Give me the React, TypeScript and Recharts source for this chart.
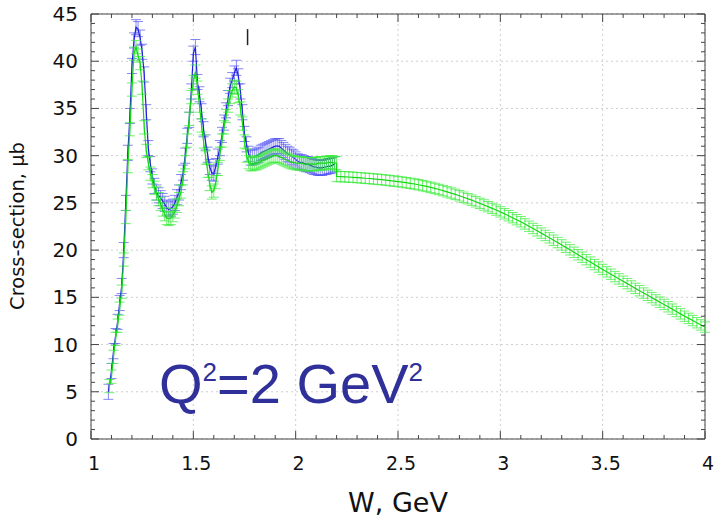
import React from "react";
import {
  ComposedChart,
  Line,
  XAxis,
  YAxis,
  CartesianGrid,
  ErrorBar,
  ReferenceArea,
  ReferenceLine,
} from "recharts";

// axis ticks
const X_MAJOR = [1, 1.5, 2, 2.5, 3, 3.5, 4];
const X_MINOR = [
  1, 1.1, 1.2, 1.3, 1.4, 1.5, 1.6, 1.7, 1.8, 1.9, 2, 2.1, 2.2, 2.3, 2.4, 2.5,
  2.6, 2.7, 2.8, 2.9, 3, 3.1, 3.2, 3.3, 3.4, 3.5, 3.6, 3.7, 3.8, 3.9, 4,
];
const Y_MAJOR = [0, 5, 10, 15, 20, 25, 30, 35, 40, 45];
const Y_MINOR = Array.from({ length: 46 }, (_, i) => i);

// measured cross-section (W in GeV, value in microbarn)
const BLUE: [number, number][] = [
  [1.085, 5.0], [1.1, 7.2], [1.11, 9.3], [1.12, 10.9], [1.13, 12.4], [1.14, 14.4],
  [1.15, 16.2], [1.16, 20.0], [1.17, 25.0], [1.18, 30.3], [1.19, 34.2], [1.2, 39.5],
  [1.21, 42.2], [1.22, 43.6], [1.23, 43.4], [1.24, 42.5], [1.25, 41.0], [1.26, 38.6],
  [1.27, 34.6], [1.28, 30.8], [1.29, 29.1], [1.3, 27.8], [1.31, 26.8], [1.32, 26.1],
  [1.33, 25.8], [1.34, 25.5], [1.35, 25.2], [1.36, 24.9], [1.37, 24.5], [1.38, 24.3],
  [1.39, 24.4], [1.4, 24.6], [1.41, 25.0], [1.42, 25.6], [1.43, 26.1], [1.44, 27.2],
  [1.45, 28.2], [1.46, 30.0], [1.47, 32.1], [1.48, 33.8], [1.49, 36.8], [1.5, 40.8],
  [1.51, 41.5], [1.52, 37.8], [1.53, 36.5], [1.54, 34.7], [1.55, 32.8], [1.56, 31.4],
  [1.57, 30.1], [1.58, 28.8], [1.59, 28.2], [1.6, 28.1], [1.61, 28.9], [1.62, 29.9],
  [1.63, 30.8], [1.64, 32.2], [1.65, 33.5], [1.66, 34.8], [1.67, 36.1], [1.68, 37.4],
  [1.69, 38.0], [1.7, 38.7], [1.71, 39.3], [1.72, 38.4], [1.73, 36.8], [1.74, 34.6],
  [1.75, 32.3], [1.76, 31.2], [1.77, 30.2], [1.78, 29.8], [1.79, 29.8], [1.8, 29.9],
  [1.81, 30.0], [1.82, 30.1], [1.83, 30.3], [1.84, 30.4], [1.85, 30.5], [1.86, 30.6],
  [1.87, 30.7], [1.88, 30.8], [1.89, 30.9], [1.9, 31.0], [1.91, 31.0], [1.92, 31.0],
  [1.93, 30.8], [1.94, 30.6], [1.95, 30.4], [1.96, 30.2], [1.97, 30.1], [1.98, 29.9],
  [1.99, 29.8], [2.0, 29.6], [2.01, 29.4], [2.02, 29.3], [2.03, 29.3], [2.04, 29.2],
  [2.05, 29.1], [2.06, 29.1], [2.07, 29.0], [2.08, 28.9], [2.09, 28.8], [2.1, 28.8],
  [2.11, 28.7], [2.12, 28.7], [2.13, 28.7], [2.14, 28.8], [2.15, 28.8], [2.16, 28.9],
  [2.17, 28.9], [2.18, 29.0], [2.19, 29.1],
];

// second data set, resonance region
const GREEN_RES: [number, number][] = [
  [1.09, 5.6], [1.1, 6.6], [1.11, 8.7], [1.12, 10.6], [1.13, 12.0], [1.14, 13.8],
  [1.15, 15.6], [1.16, 19.0], [1.17, 23.5], [1.18, 28.9], [1.19, 32.8], [1.2, 37.0],
  [1.21, 40.8], [1.22, 41.5], [1.23, 40.6], [1.24, 39.8], [1.25, 37.2], [1.26, 33.0],
  [1.27, 30.5], [1.28, 29.2], [1.29, 28.1], [1.3, 27.3], [1.31, 26.6], [1.32, 26.0],
  [1.33, 25.4], [1.34, 24.9], [1.35, 24.3], [1.36, 23.8], [1.37, 23.4], [1.38, 23.3],
  [1.39, 23.4], [1.4, 23.7], [1.41, 24.1], [1.42, 24.7], [1.43, 25.4], [1.44, 26.2],
  [1.45, 27.6], [1.46, 29.3], [1.47, 31.6], [1.48, 33.9], [1.49, 36.2], [1.5, 37.8],
  [1.51, 38.9], [1.52, 37.2], [1.53, 35.3], [1.54, 33.2], [1.55, 31.5], [1.56, 29.8],
  [1.57, 28.4], [1.58, 27.0], [1.59, 26.1], [1.6, 26.3], [1.61, 27.2], [1.62, 28.6],
  [1.63, 30.2], [1.64, 31.6], [1.65, 33.0], [1.66, 34.2], [1.67, 35.3], [1.68, 36.2],
  [1.69, 36.9], [1.7, 37.3], [1.71, 37.2], [1.72, 36.3], [1.73, 35.0], [1.74, 33.4],
  [1.75, 31.5], [1.76, 30.0], [1.77, 29.3], [1.78, 29.1], [1.79, 29.1], [1.8, 29.2],
  [1.81, 29.2], [1.82, 29.3], [1.83, 29.4], [1.84, 29.5], [1.85, 29.6], [1.86, 29.7],
  [1.87, 29.8], [1.88, 29.9], [1.89, 30.0], [1.9, 30.0], [1.91, 30.0], [1.92, 29.9],
  [1.93, 29.8], [1.94, 29.7], [1.95, 29.6], [1.96, 29.5], [1.97, 29.4], [1.98, 29.3],
  [1.99, 29.3], [2.0, 29.2], [2.01, 29.2], [2.02, 29.2], [2.03, 29.2], [2.04, 29.1],
  [2.05, 29.1], [2.06, 29.1], [2.07, 29.1], [2.08, 29.1], [2.09, 29.1], [2.1, 29.1],
  [2.11, 29.2], [2.12, 29.2], [2.13, 29.2], [2.14, 29.2], [2.15, 29.2], [2.16, 29.3],
  [2.17, 29.3], [2.18, 29.3], [2.19, 29.2], [2.2, 29.2],
];

// smooth continuation above the resonance region
const GREEN_TAIL: [number, number][] = [
  [2.2, 27.8], [2.22, 27.78], [2.24, 27.76], [2.26, 27.74], [2.28, 27.71], [2.3, 27.68],
  [2.32, 27.65], [2.34, 27.61], [2.36, 27.58], [2.38, 27.54], [2.4, 27.5], [2.42, 27.46],
  [2.44, 27.41], [2.46, 27.36], [2.48, 27.31], [2.5, 27.26], [2.52, 27.2], [2.54, 27.14],
  [2.56, 27.07], [2.58, 27.0], [2.6, 26.92], [2.62, 26.83], [2.64, 26.74], [2.66, 26.64],
  [2.68, 26.53], [2.7, 26.42], [2.72, 26.3], [2.74, 26.17], [2.76, 26.04], [2.78, 25.9],
  [2.8, 25.75], [2.82, 25.6], [2.84, 25.45], [2.86, 25.29], [2.88, 25.12], [2.9, 24.95],
  [2.92, 24.78], [2.94, 24.6], [2.96, 24.42], [2.98, 24.24], [3.0, 24.05], [3.02, 23.85],
  [3.04, 23.64], [3.06, 23.43], [3.08, 23.22], [3.1, 23.0], [3.12, 22.77], [3.14, 22.53],
  [3.16, 22.29], [3.18, 22.05], [3.2, 21.8], [3.22, 21.55], [3.24, 21.3], [3.26, 21.05],
  [3.28, 20.8], [3.3, 20.55], [3.32, 20.29], [3.34, 20.03], [3.36, 19.77], [3.38, 19.51],
  [3.4, 19.25], [3.42, 18.99], [3.44, 18.73], [3.46, 18.47], [3.48, 18.21], [3.5, 17.95],
  [3.52, 17.7], [3.54, 17.45], [3.56, 17.2], [3.58, 16.95], [3.6, 16.7], [3.62, 16.45],
  [3.64, 16.2], [3.66, 15.95], [3.68, 15.7], [3.7, 15.45], [3.72, 15.21], [3.74, 14.97],
  [3.76, 14.73], [3.78, 14.49], [3.8, 14.25], [3.82, 14.0], [3.84, 13.75], [3.86, 13.5],
  [3.88, 13.25], [3.9, 13.0], [3.92, 12.77], [3.94, 12.54], [3.96, 12.31], [3.98, 12.08],
  [4.0, 11.85],
];

const BLUE_ERR = 0.8;
const GREEN_RES_ERR = 0.7;
const GREEN_TAIL_ERR = 0.55;

const blueData = BLUE.map(([w, v]) => ({ w, v, e: BLUE_ERR }));
const greenData = [
  ...GREEN_RES.map(([w, v]) => ({ w, v, e: GREEN_RES_ERR })),
  ...GREEN_TAIL.map(([w, v]) => ({ w, v, e: GREEN_TAIL_ERR })),
];

const PLOT_LEFT = 91;
const PLOT_RIGHT = 705;
const PLOT_TOP = 14;
const PLOT_BOTTOM = 439;
const FONT = "'DejaVu Sans', sans-serif";
const AXIS_COLOR = "#444";

const isMajor = (list: number[], v: number) => list.some((m) => Math.abs(m - v) < 1e-6);

function XTick(props: any) {
  const { x, payload } = props;
  const major = isMajor(X_MAJOR, payload.value);
  const len = major ? 8 : 4;
  return (
    <g>
      <line x1={x} x2={x} y1={PLOT_BOTTOM} y2={PLOT_BOTTOM - len} stroke={AXIS_COLOR} />
      <line x1={x} x2={x} y1={PLOT_TOP} y2={PLOT_TOP + len} stroke={AXIS_COLOR} />
      {major && (
        <text x={x + 3} y={470} textAnchor="middle" fontFamily={FONT} fontSize={19} fill="#111">
          {String(payload.value)}
        </text>
      )}
    </g>
  );
}

function YTick(props: any) {
  const { y, payload } = props;
  const major = isMajor(Y_MAJOR, payload.value);
  const len = major ? 8 : 4;
  return (
    <g>
      <line x1={PLOT_LEFT} x2={PLOT_LEFT + len} y1={y} y2={y} stroke={AXIS_COLOR} />
      <line x1={PLOT_RIGHT} x2={PLOT_RIGHT - len} y1={y} y2={y} stroke={AXIS_COLOR} />
      {major && (
        <text x={78} y={y} dy={7} textAnchor="end" fontFamily={FONT} fontSize={20} fill="#111">
          {String(payload.value)}
        </text>
      )}
    </g>
  );
}

export default function App() {
  return (
    <div style={{ position: "absolute", left: 0, top: 0, width: 720, height: 519, background: "#fff" }}>
      <ComposedChart
        width={720}
        height={519}
        margin={{ top: PLOT_TOP, right: 720 - PLOT_RIGHT, bottom: 0, left: 0 }}
      >
        <CartesianGrid
          stroke="#cfcfcf"
          strokeDasharray="2 3"
          horizontalValues={Y_MAJOR}
          verticalValues={X_MAJOR}
        />
        <XAxis
          type="number"
          dataKey="w"
          domain={[1, 4]}
          ticks={X_MINOR}
          interval={0}
          height={519 - PLOT_BOTTOM}
          axisLine={false}
          tickLine={false}
          tick={<XTick />}
          allowDataOverflow
        />
        <YAxis
          type="number"
          domain={[0, 45]}
          ticks={Y_MINOR}
          interval={0}
          width={PLOT_LEFT}
          axisLine={false}
          tickLine={false}
          tick={<YTick />}
          allowDataOverflow
        />
        <ReferenceArea x1={1} x2={4} y1={0} y2={45} fill="none" stroke={AXIS_COLOR} strokeWidth={1} />
        <ReferenceLine
          segment={[{ x: 1.765, y: 41.7 }, { x: 1.765, y: 43.4 }]}
          stroke="#222"
          strokeWidth={1.5}
        />
        <Line
          data={blueData}
          dataKey="v"
          stroke="#1f1fe0"
          strokeWidth={1.2}
          dot={false}
          isAnimationActive={false}
        >
          <ErrorBar
            dataKey="e"
            direction="y"
            width={5}
            stroke="#5454f2"
            strokeOpacity={0.7}
            strokeWidth={1}
            isAnimationActive={false}
          />
        </Line>
        <Line
          data={greenData}
          dataKey="v"
          stroke="#14d814"
          strokeWidth={1.2}
          dot={false}
          isAnimationActive={false}
        >
          <ErrorBar
            dataKey="e"
            direction="y"
            width={5}
            stroke="#3cec3c"
            strokeOpacity={0.75}
            strokeWidth={1}
            isAnimationActive={false}
          />
        </Line>
      </ComposedChart>
      <svg
        width={720}
        height={519}
        style={{ position: "absolute", left: 0, top: 0, pointerEvents: "none" }}
      >
        <text x={398} y={512} textAnchor="middle" fontFamily={FONT} fontSize={27} fill="#111">
          W, GeV
        </text>
        <text
          transform="translate(24,226) rotate(-90)"
          textAnchor="middle"
          fontFamily={FONT}
          fontSize={19.5}
          fill="#111"
        >
          Cross-section, μb
        </text>
        <text x={159} y={403} fontFamily="'Liberation Sans', Arial, sans-serif" fontSize={56} fill="#30309a">
          Q
          <tspan fontSize={26} dy={-22}>2</tspan>
          <tspan dy={22}>=2 GeV</tspan>
          <tspan fontSize={26} dy={-22}>2</tspan>
        </text>
      </svg>
    </div>
  );
}
